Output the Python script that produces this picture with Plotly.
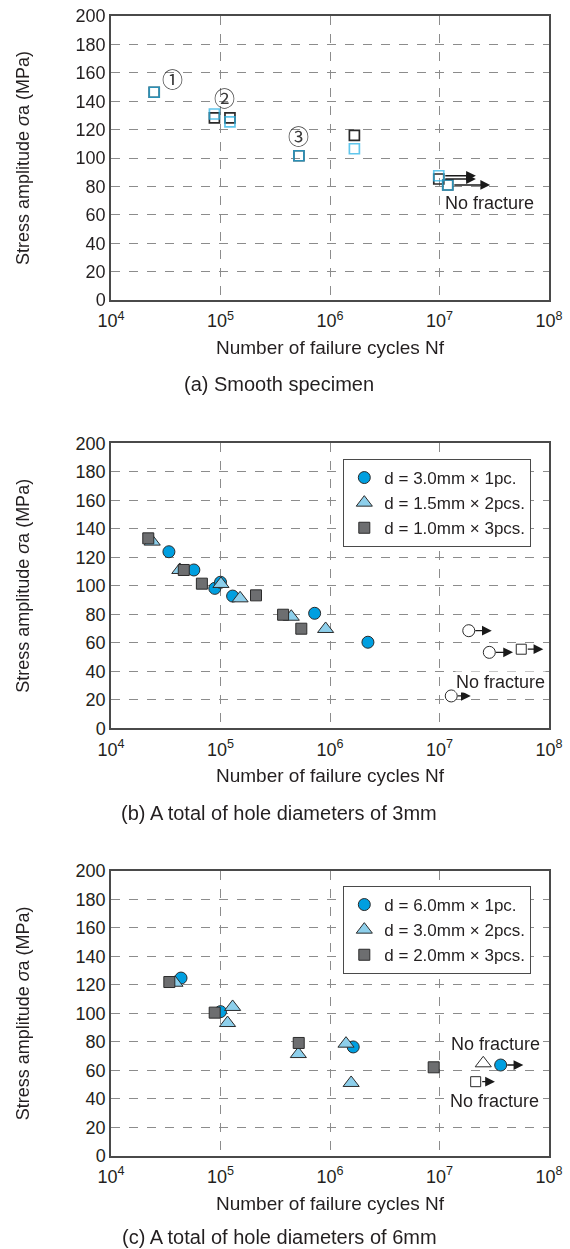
import math
import plotly.graph_objects as go

# ---------------- data ----------------
# (a) Smooth specimen
a_black_N = [2.48e4, 8.8e4, 1.22e5, 5.2e5, 1.67e6, 9.85e6, 1.19e7]
a_black_S = [146.3, 128.2, 128.2, 101.6, 116.0, 85.2, 81.0]
a_cyan_N = [2.48e4, 8.8e4, 1.22e5, 5.2e5, 1.67e6, 9.85e6, 1.19e7]
a_cyan_S = [146.3, 131.0, 125.4, 101.6, 106.5, 87.5, 81.0]
a_runout_N = [9.85e6, 9.85e6, 1.19e7]
a_runout_S = [87.5, 85.2, 81.0]
a_arrow_end_N = [2.15e7, 2.15e7, 2.9e7]
a_labels = ["①", "②", "③"]
a_label_N = [3.66e4, 1.08e5, 5.21e5]
a_label_S = [156.1, 142.7, 116.2]

# (b) A total of hole diameters of 3mm
b_names = ["d = 3.0mm × 1pc.", "d = 1.5mm × 2pcs.", "d = 1.0mm × 3pcs."]
b_circ_N = [3.38e4, 5.71e4, 8.87e4, 1.0e5, 1.29e5, 7.24e5, 2.22e6]
b_circ_S = [123.9, 111.1, 98.2, 102.5, 92.8, 80.7, 60.4]
b_tri_N = [2.38e4, 4.25e4, 1.01e5, 1.51e5, 4.43e5, 9.12e5]
b_tri_S = [131.0, 111.1, 101.3, 91.2, 78.3, 69.7]
b_sq_N = [2.19e4, 4.62e4, 6.76e4, 2.11e5, 3.73e5, 5.47e5]
b_sq_S = [133.3, 111.1, 101.5, 93.3, 79.7, 69.9]
b_run_circ_N = [1.85e7, 2.85e7, 1.28e7]
b_run_circ_S = [68.5, 53.3, 22.7]
b_run_circ_end_N = [3.0e7, 4.69e7, 1.93e7]
b_run_sq_N = [5.58e7]
b_run_sq_S = [55.5]
b_run_sq_end_N = [8.87e7]

# (c) A total of hole diameters of 6mm
c_names = ["d = 6.0mm × 1pc.", "d = 3.0mm × 2pcs.", "d = 2.0mm × 3pcs."]
c_circ_N = [4.36e4, 1.0e5, 1.63e6]
c_circ_S = [124.8, 101.2, 76.4]
c_tri_N = [3.84e4, 1.29e5, 1.16e5, 5.14e5, 1.4e6, 1.56e6]
c_tri_S = [121.5, 104.5, 93.2, 71.4, 78.7, 51.1]
c_sq_N = [3.41e4, 8.85e4, 5.18e5, 8.85e6]
c_sq_S = [122.0, 100.5, 79.2, 62.1]
c_run_circ_N = [3.62e7]
c_run_circ_S = [63.7]
c_run_circ_end_N = [5.83e7]
c_run_tri_N = [2.51e7]
c_run_tri_S = [64.9]
c_run_sq_N = [2.14e7]
c_run_sq_S = [52.0]
c_run_sq_end_N = [3.21e7]

x_tickvals = [1e4, 1e5, 1e6, 1e7, 1e8]
x_ticktext = ["10<sup>4</sup>", "10<sup>5</sup>", "10<sup>6</sup>", "10<sup>7</sup>", "10<sup>8</sup>"]
y_tickvals = [0, 20, 40, 60, 80, 100, 120, 140, 160, 180, 200]

captions = ["(a) Smooth specimen", "(b) A total of hole diameters of 3mm",
            "(c) A total of hole diameters of 6mm"]
x_title = "Number of failure cycles Nf"
y_title = "Stress amplitude <i>σ</i>a (MPa)"
no_fracture = "No fracture"

# ---------------- style ----------------
W, H = 570, 1249
FONT = "Liberation Sans, Arial, Helvetica, sans-serif"
TXT = "#231f20"
BLUE = "#009fe0"
LBLUE = "#8dcfeb"
GRAY = "#6d6e70"
CYAN = "#2bb3e6"
EDGE = "#2b2b2b"

px_left, px_right = 111, 549
panels_px = [(16, 300), (443.3, 728.3), (871, 1155.7)]
caption_px = [384.3, 812.6, 1236.5]


def py(v):
    return (H - v) / H


fig = go.Figure()

axis_common_x = dict(type="log", range=[4, 8], tickvals=x_tickvals, ticktext=x_ticktext,
                     showgrid=True, griddash="dash", gridcolor="#8c8c8c", gridwidth=1,
                     showline=True, mirror=True, linecolor="#4a4a4a", linewidth=1.5,
                     ticks="", zeroline=False, automargin=False, ticklabelstandoff=4,
                     tickfont=dict(family=FONT, size=18, color=TXT), fixedrange=True)
axis_common_y = dict(range=[0, 200], tickvals=y_tickvals,
                     showgrid=True, griddash="dash", gridcolor="#8c8c8c", gridwidth=1,
                     showline=True, mirror=True, linecolor="#4a4a4a", linewidth=1.5,
                     ticks="", zeroline=False, automargin=False,
                     tickfont=dict(family=FONT, size=18, color=TXT), fixedrange=True)

layout_axes = {}
for i, (top, bot) in enumerate(panels_px):
    sfx = "" if i == 0 else str(i + 1)
    layout_axes["xaxis" + sfx] = dict(axis_common_x, domain=[px_left / W, px_right / W],
                                      anchor="y" + sfx)
    layout_axes["yaxis" + sfx] = dict(axis_common_y, domain=[py(bot), py(top)],
                                      anchor="x" + sfx)


def mk(line_color, fill, symbol, size, lw=1.0):
    return dict(symbol=symbol, size=size, color=fill, line=dict(color=line_color, width=lw))


# panel (a)
fig.add_trace(go.Scatter(x=a_black_N, y=a_black_S, mode="markers", showlegend=False,
                         marker=mk("#2a2a2a", "rgba(0,0,0,0)", "square", 10, 1.7),
                         xaxis="x", yaxis="y"))
fig.add_trace(go.Scatter(x=a_cyan_N, y=a_cyan_S, mode="markers", showlegend=False,
                         opacity=0.75,
                         marker=mk(CYAN, "rgba(0,0,0,0)", "square", 10, 1.7),
                         xaxis="x", yaxis="y"))

# panel (b)
fig.add_trace(go.Scatter(x=b_circ_N, y=b_circ_S, mode="markers", name=b_names[0],
                         marker=mk(EDGE, BLUE, "circle", 12), xaxis="x2", yaxis="y2",
                         legend="legend2"))
fig.add_trace(go.Scatter(x=b_tri_N, y=b_tri_S, mode="markers", name=b_names[1],
                         marker=mk(EDGE, LBLUE, "triangle-up", 14), xaxis="x2", yaxis="y2",
                         legend="legend2"))
fig.add_trace(go.Scatter(x=b_sq_N, y=b_sq_S, mode="markers", name=b_names[2],
                         marker=mk(EDGE, GRAY, "square", 11), xaxis="x2", yaxis="y2",
                         legend="legend2"))
fig.add_trace(go.Scatter(x=b_run_circ_N, y=b_run_circ_S, mode="markers", showlegend=False,
                         marker=mk(EDGE, "white", "circle", 12), xaxis="x2", yaxis="y2"))
fig.add_trace(go.Scatter(x=b_run_sq_N, y=b_run_sq_S, mode="markers", showlegend=False,
                         marker=mk(EDGE, "white", "square", 10), xaxis="x2", yaxis="y2"))

# panel (c)
fig.add_trace(go.Scatter(x=c_circ_N, y=c_circ_S, mode="markers", name=c_names[0],
                         marker=mk(EDGE, BLUE, "circle", 12), xaxis="x3", yaxis="y3",
                         legend="legend3"))
fig.add_trace(go.Scatter(x=c_tri_N, y=c_tri_S, mode="markers", name=c_names[1],
                         marker=mk(EDGE, LBLUE, "triangle-up", 14), xaxis="x3", yaxis="y3",
                         legend="legend3"))
fig.add_trace(go.Scatter(x=c_sq_N, y=c_sq_S, mode="markers", name=c_names[2],
                         marker=mk(EDGE, GRAY, "square", 11), xaxis="x3", yaxis="y3",
                         legend="legend3"))
fig.add_trace(go.Scatter(x=c_run_tri_N, y=c_run_tri_S, mode="markers", showlegend=False,
                         marker=mk(EDGE, "white", "triangle-up", 14), xaxis="x3", yaxis="y3"))
fig.add_trace(go.Scatter(x=c_run_sq_N, y=c_run_sq_S, mode="markers", showlegend=False,
                         marker=mk(EDGE, "white", "square", 10), xaxis="x3", yaxis="y3"))
fig.add_trace(go.Scatter(x=c_run_circ_N, y=c_run_circ_S, mode="markers", showlegend=False,
                         marker=mk(EDGE, BLUE, "circle", 12), xaxis="x3", yaxis="y3"))

annotations = []


def arrows(Ns, Ss, Es, sfx):
    for n, s, e in zip(Ns, Ss, Es):
        annotations.append(dict(x=math.log10(e), y=s, ax=math.log10(n), ay=s,
                                xref="x" + sfx, yref="y" + sfx, axref="x" + sfx, ayref="y" + sfx,
                                text="", showarrow=True, arrowhead=2, arrowsize=1.5,
                                arrowwidth=1.3, arrowcolor="#1a1a1a", startstandoff=5))


arrows(a_runout_N, a_runout_S, a_arrow_end_N, "")
arrows(b_run_circ_N, b_run_circ_S, b_run_circ_end_N, "2")
arrows(b_run_sq_N, b_run_sq_S, b_run_sq_end_N, "2")
arrows(c_run_circ_N, c_run_circ_S, c_run_circ_end_N, "3")
arrows(c_run_sq_N, c_run_sq_S, c_run_sq_end_N, "3")

# circled numbers
for t, n, s in zip(a_labels, a_label_N, a_label_S):
    annotations.append(dict(x=math.log10(n), y=s, xref="x", yref="y", text=t, showarrow=False,
                            font=dict(family="Noto Sans CJK JP, DejaVu Sans", size=21,
                                      color="#3a3a3a")))

# "No fracture" labels
nf_pos = [("x", "y", 7.455, 68.1), ("x2", "y2", 7.553, 32.7),
          ("x3", "y3", 7.507, 78.3), ("x3", "y3", 7.5, 38.6)]
for xr, yr, lx, s in nf_pos:
    annotations.append(dict(x=lx, y=s, xref=xr, yref=yr, text=no_fracture, showarrow=False,
                            bgcolor="white", borderpad=0,
                            font=dict(family=FONT, size=18, color=TXT)))

# titles and captions
for i, (top, bot) in enumerate(panels_px):
    annotations.append(dict(x=23 / W, y=py((top + bot) / 2), xref="paper", yref="paper",
                            text=y_title, textangle=-90, showarrow=False,
                            xanchor="center", yanchor="middle",
                            font=dict(family=FONT, size=18, color=TXT)))
    annotations.append(dict(x=(px_left + px_right) / 2 / W, y=py(bot + 47.3),
                            xref="paper", yref="paper", text=x_title, showarrow=False,
                            xanchor="center", yanchor="middle",
                            font=dict(family=FONT, size=19, color=TXT)))
    annotations.append(dict(x=279 / W, y=py(caption_px[i]), xref="paper", yref="paper",
                            text=captions[i], showarrow=False, borderpad=0,
                            xanchor="center", yanchor="middle",
                            font=dict(family=FONT, size=20, color=TXT)))

legend_style = dict(bgcolor="white", bordercolor="#4a4a4a", borderwidth=1,
                    font=dict(family=FONT, size=17, color=TXT),
                    xanchor="left", yanchor="top", itemwidth=30,
                    tracegroupgap=0)

fig.update_layout(
    width=W, height=H,
    margin=dict(l=0, r=0, t=0, b=0),
    paper_bgcolor="white", plot_bgcolor="white",
    font=dict(family=FONT, color=TXT),
    annotations=annotations,
    legend2=dict(legend_style, x=343.3 / W, y=py(459)),
    legend3=dict(legend_style, x=343.3 / W, y=py(886)),
    **layout_axes,
)

fig.write_html("out.html", config={"displayModeBar": False},
               post_script="document.body.style.margin='0';")
